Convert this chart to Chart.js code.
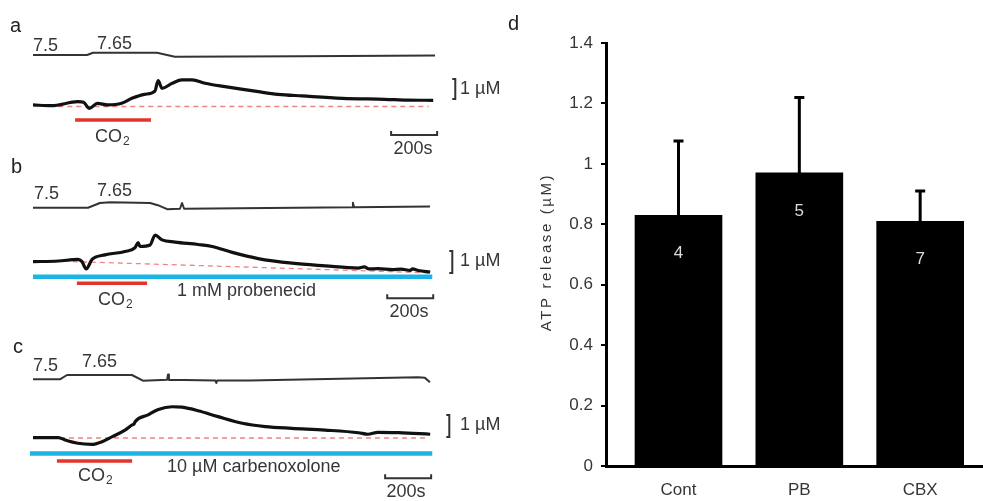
<!DOCTYPE html>
<html>
<head>
<meta charset="utf-8">
<script src="https://cdn.jsdelivr.net/npm/chart.js@4"></script>
<style>
    html, body { margin: 0; padding: 0; background: #fff; }
    #fig { position: relative; width: 983px; height: 501px; overflow: hidden; font-family: "Liberation Sans", Arial, sans-serif; }
    #fig canvas { position: absolute; }
    .panel-letter { position: absolute; font-size: 20px; line-height: 20px; color: #222; }
</style>
</head>
<body>
<div id="fig">
    <canvas id="trace-a" width="500" height="165" style="left:0px;top:0px"></canvas>
    <canvas id="trace-b" width="500" height="160" style="left:0px;top:165px"></canvas>
    <canvas id="trace-c" width="500" height="176" style="left:0px;top:325px"></canvas>
    <canvas id="bars-d" width="483" height="501" style="left:500px;top:0px"></canvas>
    <div class="panel-letter" style="left:10px;top:15px">a</div>
    <div class="panel-letter" style="left:11px;top:156px">b</div>
    <div class="panel-letter" style="left:13px;top:336px">c</div>
    <div class="panel-letter" style="left:508px;top:13px">d</div>
</div>
<script>
// ---- data: traces as [time (s), value] ----
const phA = [[0, 7.5], [235, 7.5], [261, 7.65], [539, 7.65], [617, 7.39], [1161, 7.42], [1748, 7.47]];
const phB = [[0, 7.5], [239, 7.5], [291, 7.63], [335, 7.65], [509, 7.63], [543, 7.57], [583, 7.46],
    [639, 7.47], [648, 7.63], [657, 7.47], [1387, 7.51], [1391, 7.64], [1396, 7.51], [1726, 7.53]];
const phC = [[0, 7.5], [117, 7.5], [148, 7.65], [430, 7.65], [478, 7.45], [583, 7.48], [587, 7.67], [591, 7.48],
    [793, 7.46], [797, 7.37], [801, 7.46], [943, 7.46], [1674, 7.57], [1704, 7.55], [1726, 7.40]];

// ATP (µM above starting baseline)
const atpA = [[0, 0.08], [80, 0.04], [195, 0.24], [220, 0.21], [245, -0.09], [280, 0.16], [325, 0.08], [385, 0.16],
    [430, 0.41], [485, 0.61], [530, 0.77], [544, 1.29], [561, 0.91], [605, 1.16], [648, 1.33], [692, 1.33],
    [748, 1.16], [835, 0.99], [980, 0.74], [1065, 0.61], [1170, 0.53], [1345, 0.41], [1530, 0.36], [1630, 0.32], [1740, 0.31]];
const atpB = [[0, -0.03], [110, 0], [195, 0.07], [213, -0.03], [231, -0.36], [257, 0.07], [313, 0.28], [400, 0.43],
    [444, 0.61], [457, 0.84], [465, 0.66], [509, 0.73], [531, 1.18], [561, 0.96], [618, 0.86], [718, 0.75],
    [779, 0.66], [866, 0.39], [979, 0.11], [1127, -0.10], [1270, -0.22], [1414, -0.32], [1440, -0.27],
    [1460, -0.36], [1500, -0.35], [1562, -0.39], [1600, -0.37], [1640, -0.43], [1650, -0.36], [1675, -0.43], [1727, -0.50]];
const atpC = [[0, 0.02], [110, 0.02], [140, -0.09], [195, -0.24], [255, -0.29], [300, -0.17], [345, 0.06], [400, 0.36],
    [430, 0.59], [440, 0.65], [444, 0.74], [500, 1.05], [545, 1.30], [605, 1.42], [648, 1.40], [718, 1.24],
    [805, 0.97], [910, 0.67], [1010, 0.52], [1125, 0.44], [1270, 0.36], [1415, 0.24], [1455, 0.17], [1500, 0.26],
    [1590, 0.24], [1727, 0.17]];

// dashed pre-stimulus baselines
const baselineA = [[110, 0], [1720, 0]];
const baselineB = [[95, 0], [1727, -0.54]];
const baselineC = [[0, 0], [1705, 0]];

// application windows (s)
const co2Windows = [[183, 513], [191, 496], [104, 431]];
const drugWindows = [null, [0, 1736], [-13, 1736]];
const drugNames = [null, '1 mM probenecid', '10 µM carbenoxolone'];

const scaleBarSeconds = 200;
const scaleBarMicromolar = 1;

// panel d
const groups = ['Cont', 'PB', 'CBX'];
const meanRelease = [0.83, 0.97, 0.81];
const semRelease = [0.246, 0.25, 0.10];
const nCells = [4, 5, 7];
const yTicks = [0, 0.2, 0.4, 0.6, 0.8, 1, 1.2, 1.4];

// ---- styling / layout ----
const FONT = '"Liberation Sans", Arial, sans-serif';
const TEXT = '#363636';
const RED = 'rgb(226, 52, 40)';
const BLUE = 'rgb(28, 180, 230)';
const SEC_PER_PX = 200 / 46;
const TRACE_START_PX = 33;

const panels = [
    {
        id: 'trace-a', width: 500, height: 165, ph: phA, atp: atpA, base: baselineA, co2: co2Windows[0], drug: drugWindows[0],
        um0Px: 106.5, pxPerUm: 20, ph0Px: 55, pxPerPh: 15.3,
        co2Level: -0.675, drugLevel: null, timeBar: { t: 1557, um: -1.425 }, concBar: { t: 1836, um: 0.375 },
        notes: [
            { text: '7.5', x: 33, y: 46.5 },
            { text: '7.65', x: 97, y: 44 },
            { text: 'CO', sub: '2', x: 95, y: 137 },
            { text: '1 µM', x: 460, y: 89 },
            { text: '200s', x: 413, y: 149, align: 'center' }
        ]
    },
    {
        id: 'trace-b', width: 500, height: 160, ph: phB, atp: atpB, base: baselineB, co2: co2Windows[1], drug: drugWindows[1],
        um0Px: 96, pxPerUm: 22, ph0Px: 42.7, pxPerPh: 36,
        co2Level: -1.01, drugLevel: -0.72, timeBar: { t: 1540, um: -1.69 }, concBar: { t: 1823, um: -0.545 },
        notes: [
            { text: '7.5', x: 34, y: 29 },
            { text: '7.65', x: 97, y: 26 },
            { text: 'CO', sub: '2', x: 98, y: 135 },
            { text: drugNames[1], x: 177, y: 126 },
            { text: '1 µM', x: 460, y: 96 },
            { text: '200s', x: 409, y: 147.5, align: 'center' }
        ]
    },
    {
        id: 'trace-c', width: 500, height: 176, ph: phC, atp: atpC, base: baselineC, co2: co2Windows[2], drug: drugWindows[2],
        um0Px: 113, pxPerUm: 22, ph0Px: 54.3, pxPerPh: 28.7,
        co2Level: -1.05, drugLevel: -0.70, timeBar: { t: 1531, um: -1.83 }, concBar: { t: 1810, um: 0.045 },
        notes: [
            { text: '7.5', x: 33, y: 41.5 },
            { text: '7.65', x: 82, y: 37.5 },
            { text: 'CO', sub: '2', x: 78, y: 151 },
            { text: drugNames[2], x: 167, y: 142.5 },
            { text: '1 µM', x: 460, y: 100 },
            { text: '200s', x: 406, y: 167, align: 'center' }
        ]
    }
];

function span(ref, refPx, pxPerUnit, h) {
    return { min: ref - (h - refPx) / pxPerUnit, max: ref + refPx / pxPerUnit };
}

const toPts = arr => arr.map(([x, y]) => ({ x, y }));

function lineSet(data, axis, color, width, extra) {
    return Object.assign({
        data: data, yAxisID: axis, borderColor: color, borderWidth: width,
        pointRadius: 0, fill: false, tension: 0, borderCapStyle: 'butt', borderJoinStyle: 'round'
    }, extra || {});
}

function notesPlugin(items) {
    return {
        id: 'notes',
        afterDraw(chart) {
            const ctx = chart.ctx;
            ctx.save();
            ctx.fillStyle = TEXT;
            ctx.textBaseline = 'middle';
            items.forEach(n => {
                ctx.font = `18px ${FONT}`;
                ctx.textAlign = n.align || 'left';
                ctx.fillText(n.text, n.x, n.y);
                if (n.sub) {
                    const w = ctx.measureText(n.text).width;
                    ctx.font = `12px ${FONT}`;
                    ctx.textAlign = 'left';
                    ctx.fillText(n.sub, n.x + w + 1, n.y + 5);
                }
            });
            ctx.restore();
        }
    };
}

function traceChart(p) {
    const tMin = -TRACE_START_PX * SEC_PER_PX;
    const tMax = tMin + p.width * SEC_PER_PX;
    const umRange = span(0, p.um0Px, p.pxPerUm, p.height);
    const phRange = span(7.5, p.ph0Px, p.pxPerPh, p.height);
    const tickUm = 4 / p.pxPerUm;
    const hookT = 3 * SEC_PER_PX;
    const tb = p.timeBar, cb = p.concBar;

    const datasets = [
        lineSet(toPts(p.atp), 'yAtp', '#111', 3.2, { cubicInterpolationMode: 'monotone' }),
        lineSet(toPts(p.ph), 'yPh', '#333', 2),
        lineSet(toPts(p.base), 'yAtp', 'rgba(236, 110, 110, 0.85)', 1.3, { borderDash: [5, 4] }),
        lineSet([{ x: p.co2[0], y: p.co2Level }, { x: p.co2[1], y: p.co2Level }], 'yAtp', RED, 3.5),
        lineSet([
            { x: tb.t, y: tb.um + tickUm }, { x: tb.t, y: tb.um },
            { x: tb.t + scaleBarSeconds, y: tb.um }, { x: tb.t + scaleBarSeconds, y: tb.um + tickUm }
        ], 'yAtp', '#333', 2, { borderJoinStyle: 'miter' }),
        lineSet([
            { x: cb.t - hookT, y: cb.um }, { x: cb.t, y: cb.um },
            { x: cb.t, y: cb.um + scaleBarMicromolar }, { x: cb.t - hookT, y: cb.um + scaleBarMicromolar }
        ], 'yAtp', '#333', 2, { borderJoinStyle: 'miter' })
    ];
    if (p.drug) {
        datasets.push(lineSet([{ x: p.drug[0], y: p.drugLevel }, { x: p.drug[1], y: p.drugLevel }], 'yAtp', BLUE, 4.5));
    }

    return new Chart(document.getElementById(p.id), {
        type: 'line',
        data: { datasets },
        options: {
            responsive: false,
            animation: false,
            devicePixelRatio: 1,
            layout: { padding: 0 },
            plugins: { legend: { display: false }, tooltip: { enabled: false } },
            scales: {
                x: { type: 'linear', display: false, min: tMin, max: tMax },
                yAtp: { type: 'linear', display: false, min: umRange.min, max: umRange.max },
                yPh: { type: 'linear', display: false, min: phRange.min, max: phRange.max }
            }
        },
        plugins: [notesPlugin(p.notes)]
    });
}

panels.forEach(traceChart);

// ---- panel d: bar chart ----
const errorBarPlugin = {
    id: 'errorBars',
    afterDatasetsDraw(chart) {
        const ctx = chart.ctx;
        const meta = chart.getDatasetMeta(0);
        const y = chart.scales.y;
        ctx.save();
        meta.data.forEach((bar, i) => {
            const yBar = y.getPixelForValue(meanRelease[i]);
            const yTop = y.getPixelForValue(meanRelease[i] + semRelease[i]);
            ctx.strokeStyle = '#000';
            ctx.lineWidth = 3;
            ctx.beginPath();
            ctx.moveTo(bar.x, yBar);
            ctx.lineTo(bar.x, yTop);
            ctx.moveTo(bar.x - 5, yTop);
            ctx.lineTo(bar.x + 5, yTop);
            ctx.stroke();
            ctx.fillStyle = '#dcdcdc';
            ctx.font = `17px ${FONT}`;
            ctx.textAlign = 'center';
            ctx.textBaseline = 'middle';
            ctx.fillText(String(nCells[i]), bar.x, yBar + 38);
        });
        ctx.restore();
    }
};

const yTitlePlugin = {
    id: 'yTitle',
    afterDraw(chart) {
        const ctx = chart.ctx;
        ctx.save();
        ctx.translate(47, 252);
        ctx.rotate(-Math.PI / 2);
        ctx.fillStyle = TEXT;
        ctx.font = `15px ${FONT}`;
        ctx.letterSpacing = '2.6px';
        ctx.textAlign = 'center';
        ctx.textBaseline = 'middle';
        ctx.fillText('ATP release (µM)', 0, 0);
        ctx.restore();
    }
};

new Chart(document.getElementById('bars-d'), {
    type: 'bar',
    data: {
        datasets: [{
            data: meanRelease.map((v, i) => ({ x: i, y: v })),
            backgroundColor: '#000',
            borderWidth: 0,
            barThickness: 87
        }]
    },
    options: {
        responsive: false,
        animation: false,
        devicePixelRatio: 1,
        layout: { padding: { top: 43, right: 0, bottom: 0, left: 0 } },
        plugins: { legend: { display: false }, tooltip: { enabled: false } },
        scales: {
            x: {
                type: 'linear',
                min: -0.6,
                max: 2.52,
                offset: false,
                grid: { display: false },
                border: { display: true, color: '#000', width: 3 },
                afterBuildTicks: s => { s.ticks = groups.map((g, i) => ({ value: i })); },
                afterFit: s => { s.height = 35; },
                ticks: {
                    padding: 6,
                    color: TEXT,
                    font: { family: FONT, size: 17 },
                    maxRotation: 0,
                    callback: v => groups[v]
                }
            },
            y: {
                min: 0,
                max: 1.4,
                afterBuildTicks: s => { s.ticks = yTicks.map(v => ({ value: v })); },
                afterFit: s => { s.width = 106; },
                grid: { drawOnChartArea: false, drawTicks: true, tickLength: 5, color: '#000', lineWidth: 2 },
                border: { display: true, color: '#000', width: 3 },
                ticks: {
                    padding: 8,
                    color: TEXT,
                    font: { family: FONT, size: 17 },
                    callback: v => String(Math.round(v * 10) / 10)
                }
            }
        }
    },
    plugins: [errorBarPlugin, yTitlePlugin]
});
</script>
</body>
</html>
